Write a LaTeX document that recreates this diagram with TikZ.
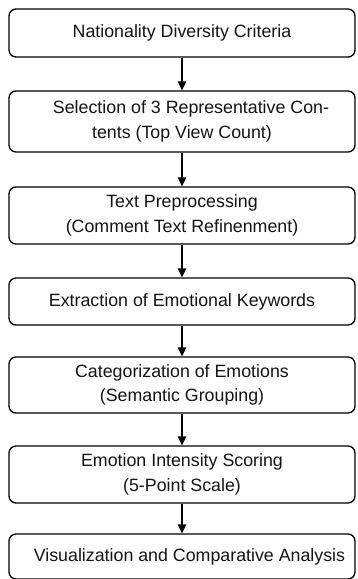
\documentclass[tikz,border=0pt]{standalone}
\usepackage{fontspec}
\setmainfont{Liberation Sans}
\usetikzlibrary{arrows.meta}
\begin{document}
\begin{tikzpicture}[x=1pt,y=-1pt,
  stepbox/.style={draw=black, line width=1.3pt, rounded corners=7pt, minimum width=346pt,
    align=center, inner sep=0pt, font=\fontsize{17.8}{24.5}\selectfont, text=black!92},
  flow/.style={draw=black, line width=1.3pt, -{Triangle[length=9pt,width=8.5pt]}}]
\useasboundingbox[fill=white] (0,0) rectangle (357,579);
\node[stepbox, minimum height=48pt] (n1) at (182,33) {Nationality Diversity Criteria};
\node[stepbox, minimum height=61pt] (n2) at (182,121.5) {\hspace*{18pt}Selection of 3 Representative Con-\\tents (Top View Count)};
\node[stepbox, minimum height=57pt] (n3) at (182,215.5) {Text Preprocessing\\(Comment Text Refinenment)};
\node[stepbox, minimum height=47pt] (n4) at (182,301.5) {Extraction of Emotional Keywords};
\node[stepbox, minimum height=56pt] (n5) at (182,385) {Categorization of Emotions\\(Semantic Grouping)};
\node[stepbox, minimum height=57pt] (n6) at (182,474.5) {Emotion Intensity Scoring\\(5-Point Scale)};
\node[stepbox, minimum height=45pt] (n7) at (182,556.5) {\hspace*{15pt}Visualization and Comparative Analysis};
\draw[flow] (n1) -- (n2);
\draw[flow] (n2) -- (n3);
\draw[flow] (n3) -- (n4);
\draw[flow] (n4) -- (n5);
\draw[flow] (n5) -- (n6);
\draw[flow] (n6) -- (n7);
\end{tikzpicture}
\end{document}
